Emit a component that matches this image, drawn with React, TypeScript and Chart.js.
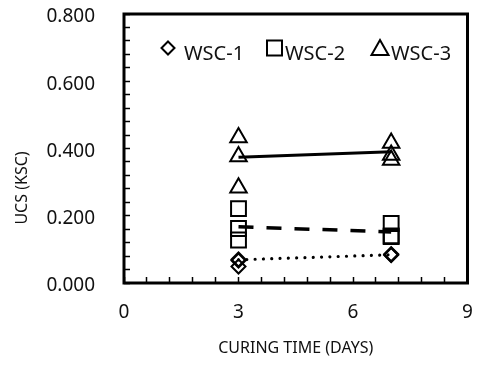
import React, { useEffect, useRef } from 'react';
import { Chart, registerables } from 'chart.js';

Chart.register(...registerables);

const FONT = '"Noto Sans", "Open Sans", sans-serif';

// Data
const curingDays = [3, 7];
const seriesNames = ['WSC-1', 'WSC-2', 'WSC-3'];
const wsc1Day3 = [0.049, 0.067, 0.07];
const wsc1Day7 = [0.083, 0.084, 0.086];
const wsc2Day3 = [0.221, 0.162, 0.128];
const wsc2Day7 = [0.177, 0.14, 0.138];
const wsc3Day3 = [0.433, 0.376, 0.283];
const wsc3Day7 = [0.416, 0.381, 0.366];
const wsc1Trend = [0.069, 0.084];
const wsc2Trend = [0.167, 0.152];
const wsc3Trend = [0.374, 0.39];
const xTickLabels = [0, 3, 6, 9];
const yTickLabels = [0, 0.2, 0.4, 0.6, 0.8];

const pts = (d3: number[], d7: number[]) => [
  ...d3.map((v) => ({ x: curingDays[0], y: v })),
  ...d7.map((v) => ({ x: curingDays[1], y: v })),
];
const trend = (t: number[]) => t.map((v, i) => ({ x: curingDays[i], y: v }));

const isLabel = (v: number, labels: number[]) => labels.some((l) => Math.abs(l - v) < 1e-6);

export default function App() {
  const ref = useRef<HTMLCanvasElement>(null);

  useEffect(() => {
    if (!ref.current) return;

    const framePlugin = {
      id: 'frameAndLegend',
      afterDraw(chart: any) {
        const { ctx, chartArea } = chart;
        ctx.save();
        ctx.strokeStyle = '#000';
        ctx.lineWidth = 3;
        ctx.strokeRect(chartArea.left, chartArea.top, chartArea.right - chartArea.left, chartArea.bottom - chartArea.top);

        ctx.lineWidth = 2;
        ctx.strokeStyle = '#000';
        const cy = 48;
        ctx.beginPath();
        ctx.moveTo(168, cy - 6.5);
        ctx.lineTo(174.5, cy);
        ctx.lineTo(168, cy + 6.5);
        ctx.lineTo(161.5, cy);
        ctx.closePath();
        ctx.stroke();
        ctx.strokeRect(267, cy - 7.5, 15, 15);
        ctx.beginPath();
        ctx.moveTo(380, cy - 8);
        ctx.lineTo(388.5, cy + 7);
        ctx.lineTo(371.5, cy + 7);
        ctx.closePath();
        ctx.stroke();

        ctx.fillStyle = '#111';
        ctx.font = `20px ${FONT}`;
        ctx.textBaseline = 'alphabetic';
        ctx.textAlign = 'left';
        ctx.fillText(seriesNames[0], 184, 60);
        ctx.fillText(seriesNames[1], 285, 60);
        ctx.fillText(seriesNames[2], 391, 60);

        ctx.save();
        ctx.translate(22, 188);
        ctx.rotate(-Math.PI / 2);
        ctx.textAlign = 'center';
        ctx.textBaseline = 'middle';
        ctx.font = `16px ${FONT}`;
        ctx.fillText('UCS (KSC)', 0, 0);
        ctx.restore();
        ctx.restore();
      },
    };

    const markerBase = {
      showLine: false,
      pointBorderColor: '#000',
      pointBackgroundColor: 'rgba(0,0,0,0)',
      pointBorderWidth: 2,
    };

    const zeroPad = (s: any) => {
      s.paddingTop = 0;
      s.paddingBottom = 0;
      s.paddingLeft = 0;
      s.paddingRight = 0;
    };

    const chart = new Chart(ref.current, {
      type: 'scatter',
      data: {
        datasets: [
          { ...markerBase, label: seriesNames[0], data: pts(wsc1Day3, wsc1Day7), pointStyle: 'rectRot', pointRadius: 7 },
          { ...markerBase, label: seriesNames[1], data: pts(wsc2Day3, wsc2Day7), pointStyle: 'rect', pointRadius: 10.5 },
          { ...markerBase, label: seriesNames[2], data: pts(wsc3Day3, wsc3Day7), pointStyle: 'triangle', pointRadius: 9.5 },
          {
            label: 'trend1', data: trend(wsc1Trend), showLine: true, pointRadius: 0,
            borderColor: '#000', borderWidth: 3.2, borderDash: [0.01, 8.3], borderCapStyle: 'round',
          },
          {
            label: 'trend2', data: trend(wsc2Trend), showLine: true, pointRadius: 0,
            borderColor: '#000', borderWidth: 3.5, borderDash: [15, 13], borderCapStyle: 'butt',
          },
          {
            label: 'trend3', data: trend(wsc3Trend), showLine: true, pointRadius: 0,
            borderColor: '#000', borderWidth: 3, borderCapStyle: 'butt',
          },
        ] as any,
      },
      options: {
        responsive: false,
        animation: false,
        layout: { padding: { top: 14, right: 8, left: 0, bottom: 0 } },
        plugins: { legend: { display: false }, tooltip: { enabled: false } },
        scales: {
          x: {
            type: 'linear',
            min: 0,
            max: 9,
            afterFit: (s: any) => { s.height = 89; zeroPad(s); },
            border: { display: false },
            grid: { drawOnChartArea: false, drawTicks: true, tickLength: -6, tickColor: '#000', tickWidth: 1.5 },
            ticks: {
              stepSize: 0.6,
              autoSkip: false,
              maxRotation: 0,
              padding: 24,
              color: '#111',
              font: { family: FONT, size: 19 },
              callback: (v: any) => (isLabel(Number(v), xTickLabels) ? String(Math.round(Number(v))) : ''),
            },
            title: {
              display: true,
              text: 'CURING TIME (DAYS)',
              color: '#111',
              font: { family: FONT, size: 16 },
              padding: { top: 0, bottom: 14 },
            },
          },
          y: {
            type: 'linear',
            min: 0,
            max: 0.8,
            afterFit: (s: any) => { s.width = 124; zeroPad(s); },
            border: { display: false },
            grid: { drawOnChartArea: false, drawTicks: true, tickLength: -6, tickColor: '#000', tickWidth: 1.5 },
            ticks: {
              stepSize: 0.04,
              autoSkip: false,
              padding: 35,
              labelOffset: 3,
              color: '#111',
              font: { family: FONT, size: 19 },
              callback: (v: any) => (isLabel(Number(v), yTickLabels) ? Number(v).toFixed(3) : ''),
            },
          },
        },
      } as any,
      plugins: [framePlugin],
    });
    return () => chart.destroy();
  }, []);

  return (
    <div style={{ position: 'absolute', left: 0, top: 0, width: 480, height: 372, background: '#fff' }}>
      <canvas ref={ref} width={480} height={372} style={{ display: 'block' }} />
    </div>
  );
}
